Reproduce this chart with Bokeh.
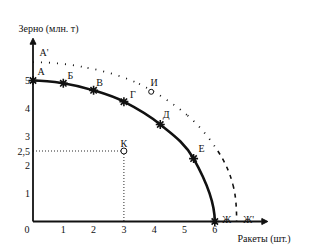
import numpy as np
from bokeh.plotting import figure
from bokeh.models import Arrow, NormalHead, ColumnDataSource
from bokeh.core.properties import value
from bokeh.embed import file_html
from bokeh.resources import INLINE

# ---- data ----
ppf_labels = ["А", "Б", "В", "Г", "Д", "Е", "Ж"]
rockets = [0, 1, 2, 3, 4.2, 5.3, 6]
grain = [5, 4.9, 4.65, 4.25, 3.44, 2.23, 0]

outer_x = [0, 1.8, 3.5, 5.1, 6.1, 6.6, 6.72]
outer_y = [5.65, 5.45, 4.88, 3.76, 2.5, 1.3, 0]
outer_labels = ["А'", "Ж'"]

point_i_x = [3.9]
point_i_y = [4.6]
point_k_x = [3]
point_k_y = [2.5]

x_ticks = [1, 2, 3, 4, 5, 6]
x_tick_labels = ["1", "2", "3", "4", "5", "6"]
y_ticks = [1, 2, 2.5, 3, 4, 5]
y_tick_labels = ["1", "2", "2,5", "3", "4", "5"]

x_title = "Ракеты (шт.)"
y_title = "Зерно (млн. т)"

# ---- styles ----
FONT = value("Liberation Serif")
INK = "#111111"


def smooth_segments(xs, ys):
    pts = np.column_stack([xs, ys]).astype(float)
    n = len(pts)
    T = np.zeros_like(pts)
    for i in range(1, n - 1):
        T[i] = (pts[i + 1] - pts[i - 1]) / 2
    T[0] = (pts[1, 0] - pts[0, 0], 0.0)          # horizontal start
    T[-1] = (0.0, pts[-1, 1] - pts[-2, 1])        # vertical end
    return dict(
        x0=pts[:-1, 0], y0=pts[:-1, 1], x1=pts[1:, 0], y1=pts[1:, 1],
        cx0=pts[:-1, 0] + T[:-1, 0] / 3, cy0=pts[:-1, 1] + T[:-1, 1] / 3,
        cx1=pts[1:, 0] - T[1:, 0] / 3, cy1=pts[1:, 1] - T[1:, 1] / 3,
    )


W, H = 329, 248
px_per_x, px_per_y = 30.3, 28.2
ox, oy = 32.5, 221.0

p = figure(width=W, height=H, output_backend="svg", toolbar_location=None,
           x_range=(-ox / px_per_x, (W - ox) / px_per_x),
           y_range=(-(H - oy) / px_per_y, oy / px_per_y),
           min_border=0)
p.axis.visible = False
p.grid.visible = False
p.outline_line_color = None
p.background_fill_color = "white"

# axes with arrows
p.add_layout(Arrow(end=NormalHead(size=6, fill_color=INK, line_color=INK),
                   x_start=0, y_start=0, x_end=7.75, y_end=0,
                   line_width=1.8, line_color=INK))
p.add_layout(Arrow(end=NormalHead(size=6, fill_color=INK, line_color=INK),
                   x_start=0, y_start=0, x_end=0, y_end=6.5,
                   line_width=1.8, line_color=INK))

# guide lines to K
p.segment(x0=[0, point_k_x[0]], y0=[point_k_y[0], point_k_y[0]],
          x1=[point_k_x[0], point_k_x[0]], y1=[point_k_y[0], 0],
          line_color=INK, line_width=0.9, line_dash="1 2")

# outer (shifted) curve
seg = smooth_segments(outer_x, outer_y)
nd = 4
top = {k: v[:nd] for k, v in seg.items()}
bot = {k: v[nd:] for k, v in seg.items()}
p.bezier(source=ColumnDataSource(top), x0="x0", y0="y0", x1="x1", y1="y1",
         cx0="cx0", cy0="cy0", cx1="cx1", cy1="cy1",
         line_color=INK, line_width=1.8, line_dash="1 7")
p.bezier(source=ColumnDataSource(bot), x0="x0", y0="y0", x1="x1", y1="y1",
         cx0="cx0", cy0="cy0", cx1="cx1", cy1="cy1",
         line_color=INK, line_width=1.6, line_dash="4 5")

# main PPF curve
seg = smooth_segments(rockets, grain)
p.bezier(source=ColumnDataSource(seg), x0="x0", y0="y0", x1="x1", y1="y1",
         cx0="cx0", cy0="cy0", cx1="cx1", cy1="cy1",
         line_color=INK, line_width=2.6)
p.scatter(rockets, grain, marker="asterisk", size=9, line_color=INK, line_width=1.6)

# points И and К
p.scatter(point_i_x, point_i_y, marker="circle", size=5, fill_color="white",
          line_color=INK, line_width=1)
p.scatter(point_k_x, point_k_y, marker="circle", size=6, fill_color="white",
          line_color=INK, line_width=1)

txt = dict(text_font=FONT, text_font_size="10px", text_color=INK,
           text_align="center", text_baseline="middle")

# point labels
p.text(x=rockets, y=grain, text=ppf_labels,
       x_offset=[8, 7, 6, 9, 6, 8, 12], y_offset=[-9, -8, -8, -7, -10, -10, -2], **txt)
p.text(x=[outer_x[0], outer_x[-1]], y=[outer_y[0], outer_y[-1]], text=outer_labels,
       x_offset=[11, 12], y_offset=[-10, -2], **txt)
p.text(x=point_i_x, y=point_i_y, text=["И"], x_offset=3, y_offset=-9, **txt)
p.text(x=point_k_x, y=point_k_y, text=["К"], x_offset=0, y_offset=-8, **txt)

# tick labels
p.text(x=x_ticks, y=[0] * len(x_ticks), text=x_tick_labels, y_offset=8, **txt)
p.text(x=[0], y=[0], text=["0"], x_offset=-6, y_offset=8, **txt)
p.text(x=[0] * len(y_ticks), y=y_ticks, text=y_tick_labels, x_offset=-3,
       text_font=FONT, text_font_size="10px", text_color=INK,
       text_align="right", text_baseline="middle")

# axis titles
p.text(x=[-0.48], y=[6.84], text=[y_title], text_font=FONT, text_font_size="10px",
       text_color=INK, text_align="left", text_baseline="middle")
p.text(x=[6.75], y=[-0.6], text=[x_title], text_font=FONT, text_font_size="10px",
       text_color=INK, text_align="left", text_baseline="middle")

open("out.html", "w").write(file_html(p, INLINE))
